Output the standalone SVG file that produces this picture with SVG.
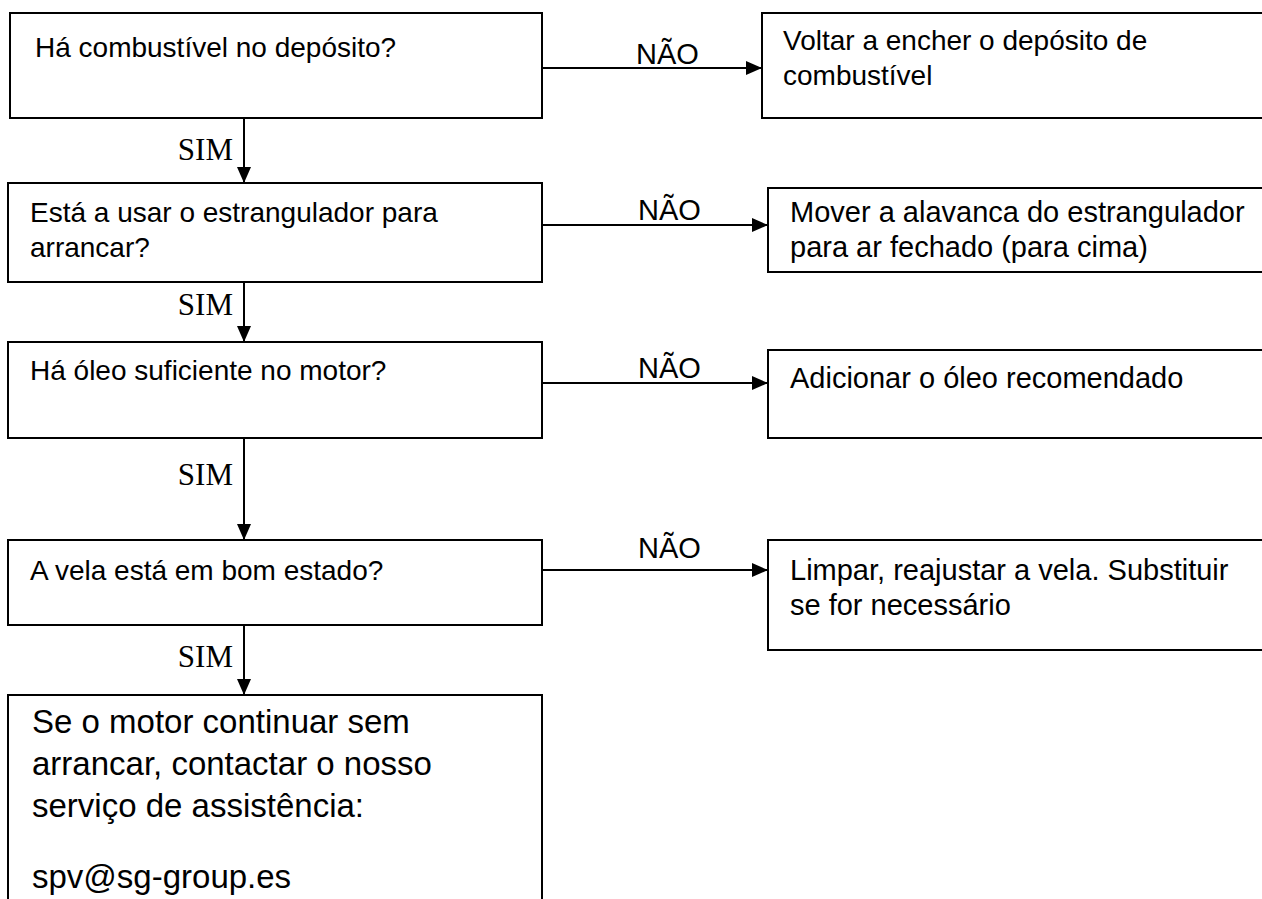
<svg xmlns="http://www.w3.org/2000/svg" width="1262" height="899" viewBox="0 0 1262 899">
<style>
.box{fill:#fff;stroke:#000;stroke-width:2}
.t{font-family:"Liberation Sans",Arial,sans-serif;font-size:28px;fill:#000}
.tr{font-family:"Liberation Sans",Arial,sans-serif;font-size:29px;fill:#000}
.tb{font-family:"Liberation Sans",Arial,sans-serif;font-size:33px;fill:#000}
.no{font-family:"Liberation Sans",Arial,sans-serif;font-size:29px;fill:#000}
.sim{font-family:"Liberation Serif","Times New Roman",serif;font-size:31px;fill:#000;text-anchor:end}
.ln{stroke:#000;stroke-width:2;fill:none;marker-end:url(#ah)}
</style>
<defs>
<marker id="ah" markerWidth="8" markerHeight="7" refX="8" refY="3.5" orient="auto" markerUnits="strokeWidth">
<path d="M0,0 L8,3.5 L0,7 z" fill="#000"/>
</marker>
</defs>
<g id="q1"><rect class="box" x="10" y="13" width="532" height="105"/><text class="t" x="35" y="57">Há combustível no depósito?</text></g>
<g id="a1"><rect class="box" x="762" y="13" width="510" height="105"/><text class="t" x="783" y="50">Voltar a encher o depósito de</text><text class="t" x="783" y="85">combustível</text></g>
<g id="q2"><rect class="box" x="8" y="183" width="534" height="99"/><text class="t" x="30" y="222">Está a usar o estrangulador para</text><text class="t" x="30" y="257">arrancar?</text></g>
<g id="a2"><rect class="box" x="768" y="188" width="504" height="84"/><text class="tr" x="790" y="222">Mover a alavanca do estrangulador</text><text class="tr" x="790" y="257">para ar fechado (para cima)</text></g>
<g id="q3"><rect class="box" x="8" y="342" width="534" height="96"/><text class="t" x="30" y="380">Há óleo suficiente no motor?</text></g>
<g id="a3"><rect class="box" x="768" y="350" width="504" height="88"/><text class="tr" x="790" y="388">Adicionar o óleo recomendado</text></g>
<g id="q4"><rect class="box" x="8" y="540" width="534" height="85"/><text class="t" x="30" y="580">A vela está em bom estado?</text></g>
<g id="a4"><rect class="box" x="768" y="540" width="504" height="110"/><text class="tr" x="790" y="580">Limpar, reajustar a vela. Substituir</text><text class="tr" x="790" y="615">se for necessário</text></g>
<g id="end"><rect class="box" x="8" y="695" width="534" height="220"/><text class="tb" x="32" y="733">Se o motor continuar sem</text><text class="tb" x="32" y="775">arrancar, contactar o nosso</text><text class="tb" x="32" y="817">serviço de assistência:</text><text class="tb" x="32" y="888">spv@sg-group.es</text></g>
<g id="connectors">
<line class="ln" x1="244" y1="118" x2="244" y2="183"/>
<line class="ln" x1="244" y1="282" x2="244" y2="342"/>
<line class="ln" x1="244" y1="438" x2="244" y2="540"/>
<line class="ln" x1="244" y1="625" x2="244" y2="695"/>
<line class="ln" x1="542" y1="68" x2="762" y2="68"/>
<line class="ln" x1="542" y1="225" x2="768" y2="225"/>
<line class="ln" x1="542" y1="383" x2="768" y2="383"/>
<line class="ln" x1="542" y1="570" x2="768" y2="570"/>
<text class="sim" x="233" y="160">SIM</text>
<text class="sim" x="233" y="315">SIM</text>
<text class="sim" x="233" y="485">SIM</text>
<text class="sim" x="233" y="667">SIM</text>
<text class="no" x="636" y="64">NÃO</text>
<text class="no" x="638" y="220">NÃO</text>
<text class="no" x="638" y="378">NÃO</text>
<text class="no" x="638" y="558">NÃO</text>
</g>
</svg>
